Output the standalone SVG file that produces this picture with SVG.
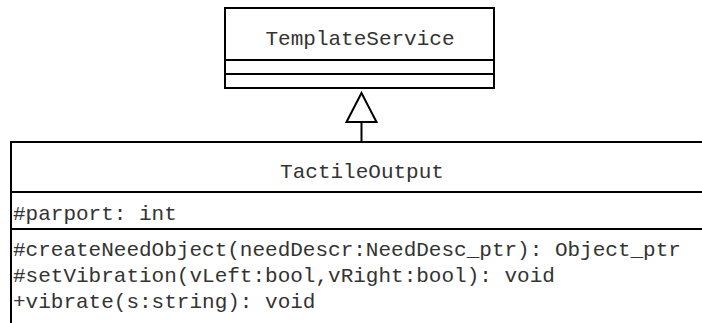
<svg xmlns="http://www.w3.org/2000/svg" width="702" height="323" viewBox="0 0 702 323">
  <defs>
    <style>
      .box { fill: #ffffff; stroke: #000000; stroke-width: 2; }
      .sep { stroke: #000000; stroke-width: 2; fill: none; }
      .txt { font-family: "Liberation Mono", "Courier New", monospace; font-size: 21px; fill: #333333; }
      .mid { text-anchor: middle; }
      .edge { stroke: #000000; stroke-width: 2; fill: none; }
      .head { fill: #ffffff; stroke: #000000; stroke-width: 2; stroke-linejoin: miter; }
    </style>
  </defs>
  <rect x="0" y="0" width="702" height="323" fill="#ffffff"/>

  <!-- superclass -->
  <g id="TemplateService">
    <rect class="box" x="225" y="8" width="269" height="80"/>
    <line class="sep" x1="225" y1="60" x2="494" y2="60"/>
    <line class="sep" x1="225" y1="74" x2="494" y2="74"/>
    <text class="txt mid" x="360" y="45">TemplateService</text>
  </g>

  <!-- subclass -->
  <g id="TactileOutput">
    <rect class="box" x="11" y="142" width="720" height="200"/>
    <line class="sep" x1="11" y1="192" x2="702" y2="192"/>
    <line class="sep" x1="11" y1="229" x2="702" y2="229"/>
    <text class="txt mid" x="362" y="178">TactileOutput</text>
    <text class="txt" x="13" y="220">#parport: int</text>
    <text class="txt" x="13" y="256">#createNeedObject(needDescr:NeedDesc_ptr): Object_ptr</text>
    <text class="txt" x="13" y="282">#setVibration(vLeft:bool,vRight:bool): void</text>
    <text class="txt" x="13" y="308">+vibrate(s:string): void</text>
  </g>

  <!-- generalization -->
  <g id="connectors">
    <line class="edge" x1="361.5" y1="142" x2="361.5" y2="122"/>
    <polygon class="head" points="361.5,93 376.5,122 346.5,122"/>
  </g>
</svg>
